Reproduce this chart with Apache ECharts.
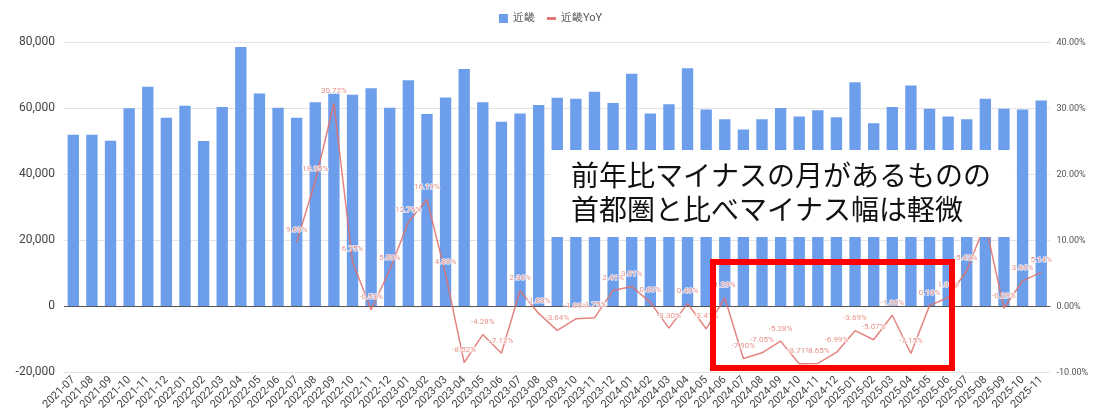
<!DOCTYPE html>
<html>
<head>
<meta charset="utf-8">
<script src="https://cdn.jsdelivr.net/npm/echarts@6/dist/echarts.min.js"></script>
<style>
html,body{margin:0;padding:0;background:#fff;}
#chart{width:1101px;height:416px;}
</style>
</head>
<body>
<div id="chart"></div>
<script>
const categories = [
  '2021-07','2021-08','2021-09','2021-10','2021-11','2021-12',
  '2022-01','2022-02','2022-03','2022-04','2022-05','2022-06','2022-07','2022-08','2022-09','2022-10','2022-11','2022-12',
  '2023-01','2023-02','2023-03','2023-04','2023-05','2023-06','2023-07','2023-08','2023-09','2023-10','2023-11','2023-12',
  '2024-01','2024-02','2024-03','2024-04','2024-05','2024-06','2024-07','2024-08','2024-09','2024-10','2024-11','2024-12',
  '2025-01','2025-02','2025-03','2025-04','2025-05','2025-06','2025-07','2025-08','2025-09','2025-10','2025-11'
];
const kinkiValues = [
  52000,52000,50200,60000,66500,57100,
  60800,50100,60400,78600,64500,60200,57100,61800,64500,64100,66100,60200,
  68500,58300,63300,71900,61800,55900,58400,61000,63200,62900,65000,61600,
  70500,58400,61200,72100,59600,56700,53600,56700,60100,57500,59400,57300,
  67900,55500,60400,66900,59900,57500,56700,62900,59900,59600,62400
];
const kinkiYoY = [
  null,null,null,null,null,null,
  null,null,null,null,null,null,9.69,18.95,30.72,6.75,-0.53,5.50,
  12.76,16.19,4.88,-8.52,-4.28,-7.12,2.36,-1.08,-3.64,-1.89,-1.75,2.41,
  3.01,0.60,-3.30,0.40,-3.41,1.29,-7.90,-7.05,-5.28,-8.71,-8.65,-6.99,
  -3.69,-5.07,-1.36,-7.15,0.10,1.33,5.42,12.5,-0.29,3.86,5.14
];
const leftTicks = { min: -20000, max: 80000, interval: 20000 };
const rightTicks = { min: -10, max: 40, interval: 10 };
const seriesNames = ['近畿', '近畿YoY'];
const noteLines = ['前年比マイナスの月があるものの', '首都圏と比べマイナス幅は軽微'];

const chart = echarts.init(document.getElementById('chart'));
const font = 'Roboto, Arial, sans-serif';
chart.setOption({
  animation: false,
  textStyle: { fontFamily: font },
  legend: {
    top: 8, left: 'center',
    itemWidth: 9, itemHeight: 9, itemGap: 12,
    textStyle: { fontSize: 11, color: '#555', fontFamily: font },
    data: [
      { name: seriesNames[0], icon: 'rect', itemStyle: { color: '#6d9eeb' } },
      { name: seriesNames[1], icon: 'path://M0,0 L10,0 L10,3 L0,3 Z',
        itemStyle: { color: '#e06666', opacity: 1 } }
    ]
  },
  grid: { left: 64, right: 50.5, top: 42.3, bottom: 43.7, containLabel: false },
  xAxis: {
    type: 'category', data: categories,
    axisLine: { show: false, onZero: false },
    axisTick: { show: false },
    axisLabel: { rotate: 45, fontSize: 11, color: '#444', margin: 6, interval: 0, fontFamily: font }
  },
  yAxis: [
    {
      type: 'value', min: leftTicks.min, max: leftTicks.max, interval: leftTicks.interval,
      axisLine: { show: false }, axisTick: { show: false },
      axisLabel: { fontSize: 12, color: '#444', margin: 9, fontFamily: font,
        formatter: v => v.toLocaleString('en-US') },
      splitLine: { lineStyle: { color: '#e3e3e3', width: 1 } }
    },
    {
      type: 'value', min: rightTicks.min, max: rightTicks.max, interval: rightTicks.interval,
      axisLine: { show: false }, axisTick: { show: false },
      axisLabel: { fontSize: 9, color: '#555', margin: 6, fontFamily: font,
        formatter: v => v.toFixed(2) + '%' },
      splitLine: { show: false }
    }
  ],
  series: [
    {
      name: seriesNames[0], type: 'bar', data: kinkiValues, yAxisIndex: 0,
      barWidth: '61%',
      itemStyle: { color: '#6d9eeb' },
      markLine: {
        silent: true, symbol: 'none', label: { show: false },
        lineStyle: { color: '#555', width: 1, type: 'solid' },
        data: [{ yAxis: 0 }]
      }
    },
    {
      name: seriesNames[1], type: 'line', data: kinkiYoY, yAxisIndex: 1,
      showSymbol: true, symbol: 'circle', symbolSize: 1, connectNulls: false,
      color: '#e06666',
      itemStyle: { color: 'rgba(222,110,106,0)' },
      lineStyle: { color: 'rgba(222,110,106,0.85)', width: 1.5 },
      label: {
        show: true, position: 'top', distance: 8, fontSize: 8,
        color: 'rgba(230,140,132,0.95)', fontFamily: font,
        textBorderColor: 'rgba(255,255,255,0.8)', textBorderWidth: 1.5,
        formatter: p => (p.value == null ? '' : p.value.toFixed(2) + '%')
      },
      labelLayout: { hideOverlap: false },
      z: 5
    }
  ],
  graphic: [
    { type: 'rect', z: 100, shape: { x: 550, y: 150, width: 465, height: 87 },
      style: { fill: '#ffffff' } },
    { type: 'text', z: 101, x: 571, y: 158.5,
      style: { text: noteLines.join('\n'), font: '28px "Noto Sans CJK JP"', fill: '#111',
        lineHeight: 34, textVerticalAlign: 'top', textAlign: 'left' } },
    { type: 'rect', z: 102, shape: { x: 713, y: 262, width: 239, height: 106 },
      style: { fill: 'none', stroke: '#ff0000', lineWidth: 6 } }
  ]
});
</script>
</body>
</html>
